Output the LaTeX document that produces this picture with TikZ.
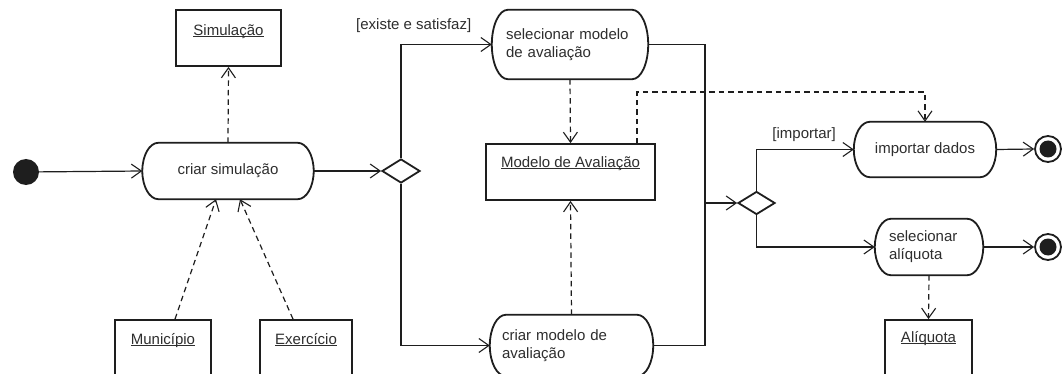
\documentclass[tikz,border=0pt]{standalone}
\usepackage{fontspec}
\setmainfont{Liberation Sans}
\usetikzlibrary{arrows.meta,shapes.geometric,calc}
\definecolor{ink}{HTML}{1E1E1E}
\definecolor{txt}{HTML}{2E2E2E}
% object name, underlined at a fixed depth below the baseline
\newcommand\uname[1]{\sbox0{#1}\rlap{\rule[-1.8pt]{\wd0}{0.8pt}}\usebox0}
% outline of an action node: straight top and bottom, half-elliptic ends
\newcommand\pill[1]{%
  \draw[ink,line width=1.8pt] let \p1=(#1.north west), \p2=(#1.south east) in
   ({\x1+16pt},\y1) -- ({\x2-16pt},\y1)
   .. controls ({\x2-7.16pt},\y1) and (\x2,{0.5*(\y1+\y2)+0.27615*(\y1-\y2)}) .. (\x2,{0.5*(\y1+\y2)})
   .. controls (\x2,{0.5*(\y1+\y2)-0.27615*(\y1-\y2)}) and ({\x2-7.16pt},\y2) .. ({\x2-16pt},\y2)
   -- ({\x1+16pt},\y2)
   .. controls ({\x1+7.16pt},\y2) and (\x1,{0.5*(\y1+\y2)-0.27615*(\y1-\y2)}) .. (\x1,{0.5*(\y1+\y2)})
   .. controls (\x1,{0.5*(\y1+\y2)+0.27615*(\y1-\y2)}) and ({\x1+7.16pt},\y1) .. cycle;}

\begin{document}
\begin{tikzpicture}[x=1pt,y=-1pt,
  font=\fontsize{15}{18}\selectfont, text=txt,
  actbox/.style={inner sep=0pt},
  objbox/.style={draw=ink,line width=1.8pt,inner sep=0pt},
  decision/.style={diamond,draw=ink,line width=1.8pt,inner sep=0pt,
                   minimum width=38pt,minimum height=24pt},
  flow/.style={draw=ink,line width=1.2pt,
               -{Straight Barb[length=10pt,width=14pt,line width=1.1pt]}},
  dep/.style={flow,dash pattern=on 5.5pt off 4pt},
  lbl/.style={inner sep=0pt}]

\useasboundingbox (0,0) rectangle (1064,374);
\fill[white] (0,0) rectangle (1064,374);
\clip (0,0) rectangle (1064,374);

% start
\node[circle,fill=ink,minimum size=26pt,inner sep=0pt] (init) at (26,172) {};

% creating the simulation and its objects
\node[actbox,minimum width=171pt,minimum height=56pt] (crsim) at (228,171) {criar simulação};
\node[objbox,minimum width=105pt,minimum height=56pt] (sim) at (228.5,38) {};
\node[anchor=base,inner sep=0pt] (simT) at ([yshift=-26pt]sim.north) {\uname{Simulação}};
\node[objbox,minimum width=96pt,minimum height=58pt] (mun) at (163,349) {};
\node[anchor=base,inner sep=0pt] (munT) at ([yshift=-25pt]mun.north) {\uname{Município}};
\node[objbox,minimum width=92pt,minimum height=58pt] (exe) at (306,349) {};
\node[anchor=base,inner sep=0pt] (exeT) at ([yshift=-25pt]exe.north) {\uname{Exercício}};

% first decision
\node[decision] (d1) at (401,171) {};
\node[lbl,anchor=west] (lexist) at (356,26) {[existe e satisfaz]};

% evaluation model
\node[actbox,minimum width=156pt,minimum height=69pt,text width=128pt,
      inner xsep=14pt,align=left] (selmod) at (570,44.5) {selecionar modelo\\de avaliação};
\node[objbox,minimum width=169pt,minimum height=56pt] (modav) at (570.5,172) {};
\node[anchor=base,inner sep=0pt] (modavT) at ([yshift=-24pt]modav.north) {\uname{Modelo de Avaliação}};
\node[actbox,minimum width=163pt,minimum height=61pt,text width=139pt,
      inner xsep=12pt,align=left] (crmod) at (571.5,345.5) {criar modelo de\\avaliação};
\coordinate (join) at (705,203);

% second decision and final actions
\node[decision,minimum width=37pt,minimum height=23pt] (d2) at (756.5,203) {};
\node[lbl,anchor=east] (limp) at (836,135) {[importar]};
\node[actbox,minimum width=142pt,minimum height=55pt] (imp) at (925,149.5) {importar dados};
\node[actbox,minimum width=108pt,minimum height=56pt,text width=80pt,
      inner xsep=14pt,align=left] (selalq) at (929,247) {selecionar\\alíquota};
\node[objbox,minimum width=87pt,minimum height=58pt] (alq) at (928.5,349) {};
\node[anchor=base,inner sep=0pt] (alqT) at ([yshift=-23pt]alq.north) {\uname{Alíquota}};

% action outlines
\pill{crsim}
\pill{selmod}
\pill{crmod}
\pill{imp}
\pill{selalq}

% ends
\node[circle,draw=ink,line width=1.8pt,minimum size=26pt,inner sep=0pt] (fin1) at (1048,149) {};
\fill[ink] (fin1.center) circle (8.5pt);
\node[circle,draw=ink,line width=1.8pt,minimum size=26pt,inner sep=0pt] (fin2) at (1048,247) {};
\fill[ink] (fin2.center) circle (8.5pt);

% control flow
\draw[flow] (init) -- (crsim.west);
\draw[flow] (crsim.east) -- (d1.west);
\draw[flow] (d1.north) |- (selmod.west);
\draw[flow] (d1.south) |- (crmod.west);
\draw[draw=ink,line width=1.2pt] (selmod.east) -| (join);
\draw[draw=ink,line width=1.2pt] (crmod.east) -| (join);
\draw[flow] (join) -- (d2.west);
\draw[flow] (d2.north) |- (imp.west);
\draw[flow] (d2.south) |- (selalq.west);
\draw[flow] (imp.east) -- (fin1.west);
\draw[flow] (selalq.east) -- (fin2.west);

% object flow
\draw[dep] (crsim.north) -- (sim.south);
\draw[dep] ([xshift=12pt]mun.north) -- ([xshift=-12pt]crsim.south);
\draw[dep] ([xshift=-13pt]exe.north) -- ([xshift=12pt]crsim.south);
\draw[dep] (selmod.south) -- (modav.north);
\draw[dep] (crmod.north) -- (modav.south);
\coordinate (dbend) at (780,92);
\draw[dep] ([xshift=66.5pt]modav.north) |- (dbend) -| (imp.north);
\draw[dep] (selalq.south) -- (alq.north);
\end{tikzpicture}
\end{document}
